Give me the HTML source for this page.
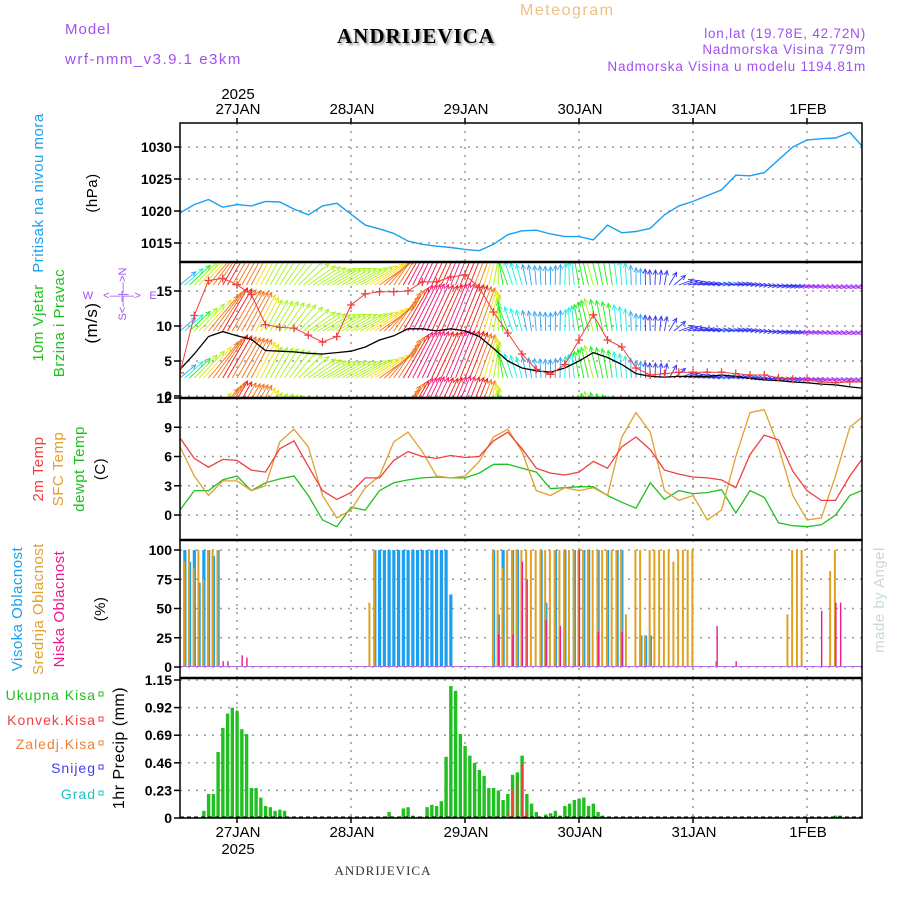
<!DOCTYPE html>
<html><head><meta charset="utf-8"><style>
html,body{margin:0;padding:0;background:#fff;}
svg{display:block;font-family:"Liberation Sans",sans-serif;}
</style></head><body>
<svg id="c" width="900" height="900" viewBox="0 0 900 900"></svg>
<script>
// ---------- data ----------
const dayLabels = ["27JAN","28JAN","29JAN","30JAN","31JAN","1FEB"];
const pressure = [1019.7,1021.0,1021.8,1020.6,1021.0,1020.8,1021.5,1021.4,1020.3,1019.4,1020.8,1021.2,1019.5,1017.8,1017.2,1016.5,1015.3,1014.8,1014.5,1014.3,1014.0,1013.8,1014.8,1016.3,1016.9,1017.0,1016.4,1016.0,1016.0,1015.5,1017.8,1016.6,1016.8,1017.3,1019.4,1020.8,1021.5,1022.4,1023.3,1025.6,1025.5,1026.0,1028.0,1030.0,1031.1,1031.3,1031.4,1032.3,1029.8];
const pressureTicks = [1015,1020,1025,1030];
const windSpeed = [3.8,6.0,8.5,9.2,8.6,8.1,6.5,6.4,6.3,6.1,6.0,6.2,6.4,7.0,8.0,8.6,9.6,9.6,9.3,9.6,9.3,8.5,6.8,5.0,4.0,3.6,3.4,4.0,5.0,6.2,5.5,4.5,3.2,2.8,2.7,2.8,2.8,2.8,3.0,2.8,2.5,2.3,2.2,2.0,1.9,1.7,1.6,1.3,1.1];
const windGust = [3.3,11.5,16.5,16.8,15.9,14.5,10.2,9.8,9.7,8.7,7.7,8.5,13.0,14.6,14.9,14.9,15.0,16.3,16.3,17.0,17.3,15.5,12.0,9.0,6.0,3.8,3.1,4.5,8.0,11.6,8.0,7.0,4.0,3.0,3.2,3.4,3.4,3.4,3.4,3.2,3.0,3.0,2.6,2.4,2.3,2.0,1.9,2.0,2.0];
const windDirTo = [40,45,50,60,60,62,62,58,50,35,30,30,28,30,35,55,62,65,65,68,68,70,80,110,105,95,90,88,100,105,100,95,90,92,80,20,10,5,5,5,0,-5,-8,-10,-12,-14,-15,-15,-16];
const windTicks = [0,5,10,15];
const temp2m = [7.9,5.8,4.9,5.7,5.6,4.6,4.4,6.8,7.6,5.0,2.5,1.6,2.3,3.8,3.8,5.6,6.5,6.0,5.8,6.1,5.9,6.0,7.6,8.5,6.8,4.8,4.3,4.1,4.4,5.5,4.8,7.0,8.0,6.7,4.6,4.2,3.9,3.8,3.6,2.8,6.2,8.2,7.7,4.5,2.5,1.5,1.5,4.0,6.0];
const tempSfc = [7.0,4.0,2.0,3.5,3.5,2.5,3.0,7.5,8.8,7.0,2.0,-0.3,0.5,2.8,4.0,7.5,8.5,6.5,4.0,3.8,4.0,5.5,8.0,8.8,6.5,2.5,2.0,2.8,2.5,2.8,2.0,8.0,10.5,8.5,2.5,1.5,2.0,-0.5,0.5,6.0,10.5,10.8,7.0,2.0,-0.5,-0.3,4.0,9.0,10.2];
const tempDew = [0.5,2.5,2.5,3.6,4.0,2.5,3.3,3.7,4.0,2.0,-0.5,-1.2,0.8,0.5,2.5,3.3,3.6,3.8,3.9,3.8,3.8,4.3,5.2,5.2,4.8,4.4,2.7,2.8,2.9,2.9,2.0,1.3,0.7,3.3,1.6,2.5,2.2,2.3,2.6,0.2,2.5,1.8,-0.8,-1.1,-1.2,-1.0,0.0,2.0,2.6];
const tempTicks = [0,3,6,9,12];
const cloudHigh = [0,100,90,100,72,100,100,95,100,0,0,0,0,0,0,0,0,0,0,0,0,0,0,0,0,0,0,0,0,0,0,0,0,0,0,0,0,0,0,0,0,100,100,100,100,100,100,100,100,100,100,100,100,100,100,100,100,62,0,0,0,0,0,0,0,0,100,45,100,0,100,100,0,0,0,0,100,55,0,100,0,100,0,100,0,100,100,0,100,0,100,0,100,100,0,0,0,27,27,27,0,0,0,0,0,0,0,0,0,0,0,0,0,0,0,0,0,0,0,0,0,0,0,0,0,0,0,0,0,0,0,0,0,0,0,0,0,0,0,0];
const cloudMid = [80,90,100,85,100,75,100,100,100,0,0,0,0,0,0,0,0,0,0,0,0,0,0,0,0,0,0,0,0,0,0,0,0,0,0,0,0,0,0,0,55,100,0,0,0,0,0,0,0,0,0,0,0,0,0,0,0,0,0,0,0,0,0,0,0,0,100,100,85,100,100,100,100,100,100,100,100,100,100,100,100,100,100,100,100,100,100,100,100,100,100,100,100,100,45,0,100,100,27,100,100,100,100,100,90,100,100,100,100,0,0,0,0,5,0,0,0,0,0,0,0,0,0,0,0,0,0,0,45,100,100,100,0,0,0,0,0,82,100,0,0,0,0,0];
const cloudLow = [0,0,0,0,0,0,0,0,0,5,5,0,0,10,8,0,0,0,0,0,0,0,0,0,0,0,0,0,0,0,0,0,0,0,0,0,0,0,0,0,0,0,0,0,0,0,0,0,0,0,0,0,0,0,0,0,0,0,0,0,0,0,0,0,0,0,0,28,0,0,28,0,90,75,0,0,0,40,0,0,35,0,0,0,100,0,0,0,30,0,0,0,0,30,0,0,0,0,0,0,0,0,0,0,0,0,0,0,0,0,0,0,0,35,0,0,0,5,0,0,0,0,0,0,0,0,0,0,0,0,0,0,0,0,0,48,0,0,55,55,0,0,0];
const cloudTicks = [0,25,50,75,100];
const precipTotal = [0,0,0,0,0,0.06,0.2,0.2,0.55,0.75,0.87,0.92,0.89,0.74,0.7,0.25,0.25,0.17,0.1,0.09,0.06,0.07,0.06,0.01,0,0,0,0,0,0,0,0,0,0,0,0,0,0,0,0,0,0,0,0.01,0.05,0.01,0.01,0.08,0.09,0.02,0.01,0.01,0.09,0.11,0.1,0.14,0.51,1.1,1.06,0.7,0.6,0.52,0.46,0.4,0.35,0.25,0.25,0.23,0.15,0.2,0.36,0.38,0.52,0.2,0.12,0.05,0.01,0.03,0.04,0.06,0.02,0.1,0.12,0.15,0.16,0.17,0.1,0.12,0.05,0.02,0,0,0,0,0,0,0,0,0,0,0,0,0,0,0,0,0,0,0,0,0,0,0,0,0,0,0,0,0,0,0,0,0,0,0,0,0,0,0,0,0,0,0,0,0,0,0,0,0.02,0.02,0,0,0,0,0,0,0,0,0];
const precipConv = [0,0,0,0,0,0,0,0,0,0,0,0,0,0,0,0,0,0,0,0,0,0,0,0,0,0,0,0,0,0,0,0,0,0,0,0,0,0,0,0,0,0,0,0,0,0,0,0,0,0,0,0,0,0,0,0,0,0,0,0,0,0,0,0,0,0,0,0,0,0.05,0.23,0.3,0.45,0.05,0,0,0,0,0,0,0,0,0,0,0,0,0,0,0,0,0,0,0,0,0,0,0,0,0,0,0,0,0,0,0,0,0,0,0,0,0,0,0,0,0,0,0,0,0,0,0,0,0,0,0,0,0,0,0,0,0,0,0,0,0,0,0,0,0,0,0,0,0,0];
const precipTicks = [0,0.23,0.46,0.69,0.92,1.15];

// ---------- helpers ----------
const NS="http://www.w3.org/2000/svg";
const svg=document.getElementById('c');
function mk(tag,attrs,parent){const e=document.createElementNS(NS,tag);for(const k in attrs)e.setAttribute(k,attrs[k]);(parent||svg).appendChild(e);return e;}
const X0=180,X1=862,PXH=114/24;
const xH=h=>X0+h*PXH;
const x3=k=>X0+k*3*PXH;
const xDay=d=>237+d*114;
const panels={p:[123,262],w:[262,398],t:[398,540],c:[540,678],r:[678,818]};
const yP=v=>243-(v-1015)*6.4;
const yW=v=>396-v*7;
const yT=v=>515-v*9.75;
const yC=v=>667-v*1.17;
const yR=v=>818-v*120;

function clip(id,p){const cp=mk('clipPath',{id:id});mk('rect',{x:X0,y:p[0],width:X1-X0,height:p[1]-p[0]},cp);}
clip('cp',panels.p);clip('cw',panels.w);clip('ct',panels.t);clip('cc',panels.c);clip('cr',panels.r);

function grid(p,ys){
  const g=mk('g',{});
  
  
  for(let d=0;d<dayLabels.length;d++)mk('line',{x1:xDay(d),x2:xDay(d),y1:p[0],y2:p[1],stroke:'#999','stroke-dasharray':'2,6','stroke-width':1.5},g);
  ys.forEach(y=>mk('line',{x1:X0,x2:X1,y1:y,y2:y,stroke:'#999','stroke-dasharray':'2,6','stroke-width':1.5},g));
}
function yticks(vals,fy,fmt){
  const g=mk('g',{});
  
  
  vals.forEach(v=>{const y=fy(v);mk('line',{x1:X0-6,x2:X0,y1:y,y2:y,stroke:'#000','stroke-width':1.5},g);
    const t=mk('text',{x:X0-8,y:y+5,'text-anchor':'end','font-size':14,'font-weight':'bold'},g);t.textContent=fmt?fmt(v):v;});
}
function line(arr,fx,fy,col,cp,name,w){
  const pts=arr.map((v,i)=>fx(i).toFixed(1)+','+fy(v).toFixed(1)).join(' ');
  const e=mk('polyline',{points:pts,fill:'none',stroke:col,'stroke-width':w||1.3,'clip-path':'url(#'+cp+')'});
  
  
}
function txt(x,y,s,attrs,name){const t=mk('text',Object.assign({x:x,y:y},attrs||{}));t.textContent=s;return t;}
function vtxt(x,y,s,col,name,size){return txt(x,y,s,{transform:'rotate(-90 '+x+' '+y+')','text-anchor':'middle',fill:col,'font-size':size||15,'letter-spacing':'0.5'},name);}

// ---------- grids ----------
grid(panels.p,pressureTicks.map(yP));
grid(panels.w,windTicks.map(yW));
grid(panels.t,tempTicks.slice(0,4).map(yT));
grid(panels.c,cloudTicks.map(yC));
grid(panels.r,precipTicks.map(yR));

// ---------- pressure ----------
line(pressure,x3,yP,'#1aa0f0','cp','pressure-line',1.4);

// ---------- wind arrows ----------
function spdCol(s){let h;
  if(s<2)h=275;else if(s<3)h=240;else if(s<4)h=205;else if(s<5)h=175;else if(s<6)h=120;else if(s<7)h=80;else if(s<8)h=55;else if(s<9)h=25;else if(s<9.5)h=0;else h=335;
  return 'hsl('+h+',90%,'+(h>200&&h<280?'58%':'52%')+')';}
const wg=mk('g',{'clip-path':'url(#cw)'});


const rows=[285,331,378,424];
for(let h=0;h<=143;h++){
  const k=h/3,k0=Math.floor(k),k1=Math.min(k0+1,48),f=k-k0;
  const s=windSpeed[k0]*(1-f)+windSpeed[k1]*f;
  const a=(windDirTo[k0]*(1-f)+windDirTo[k1]*f)*Math.PI/180;
  const L=Math.max(10,s*5.4),col=spdCol(s);
  const x=xH(h);
  rows.forEach(yb=>{
    const x2=x+L*Math.cos(a),y2=yb-L*Math.sin(a);
    mk('line',{x1:x,y1:yb,x2:x2,y2:y2,stroke:col,'stroke-width':0.9},wg);
    const ha=0.45,hl=5;
    mk('polyline',{points:(x2-hl*Math.cos(a-ha))+','+(y2+hl*Math.sin(a-ha))+' '+x2+','+y2+' '+(x2-hl*Math.cos(a+ha))+','+(y2+hl*Math.sin(a+ha)),fill:'none',stroke:col,'stroke-width':0.9},wg);
  });
}
line(windSpeed,x3,yW,'#000','cw','wind-speed-line',1.3);
const gg=mk('g',{'clip-path':'url(#cw)'});


line(windGust,x3,yW,'#f04040','cw','wind-gust-line',1);
windGust.forEach((v,i)=>{const x=x3(i),y=yW(v);
  mk('path',{d:`M${x-4},${y}h8M${x},${y-4}v8`,stroke:'#f04040','stroke-width':1.3},gg);});

// ---------- temperature ----------
line(tempDew,x3,yT,'#20c020','ct','dewpoint-line',1.3);
line(tempSfc,x3,yT,'#e0a030','ct','sfc-temp-line',1.3);
line(temp2m,x3,yT,'#f04040','ct','temp-2m-line',1.3);

// ---------- clouds ----------
const cg=mk('g',{'clip-path':'url(#cc)'});


cloudHigh.forEach((v,i)=>{if(v>0){const y=yC(v);mk('rect',{x:xH(i)-1.5,y:y,width:3.2,height:yC(0)-y,fill:'#1aa0f0'},cg);}});
cloudMid.forEach((v,i)=>{if(v>0){const y=yC(v);mk('rect',{x:xH(i)-1.6,y:y,width:2,height:yC(0)-y,fill:'#e0a020'},cg);}});
cloudLow.forEach((v,i)=>{if(v>0){const y=yC(v);mk('rect',{x:xH(i)-0.3,y:y,width:1.4,height:yC(0)-y,fill:'#f01890'},cg);}});
mk('line',{x1:X0,x2:X1,y1:yC(0)-0.5,y2:yC(0)-0.5,stroke:'#b070e0','stroke-width':1});

// ---------- precip ----------
const rg=mk('g',{'clip-path':'url(#cr)'});


precipTotal.forEach((v,i)=>{if(v>0){const y=yR(v);mk('rect',{x:xH(i)-1.6,y:y,width:3.4,height:yR(0)-y,fill:'#20c020'},rg);}});
precipConv.forEach((v,i)=>{if(v>0){const y=yR(v);mk('rect',{x:xH(i)-0.6,y:y,width:1.6,height:yR(0)-y,fill:'#f04040'},rg);}});
mk('line',{x1:X0,x2:X1,y1:817,y2:817,stroke:'#000','stroke-width':1,'stroke-dasharray':'4,3'});

// ---------- frames & ticks ----------
Object.keys(panels).forEach(k=>{const p=panels[k];
  const r=mk('rect',{x:X0,y:p[0],width:X1-X0,height:p[1]-p[0],fill:'none',stroke:'#000','stroke-width':1.5});
  
  });
[262,398,540,678].forEach(y=>mk('line',{x1:X0,x2:X1,y1:y,y2:y,stroke:'#000','stroke-width':2.5}));
yticks(pressureTicks,yP);
yticks(windTicks,yW);
yticks(tempTicks,yT);
yticks(cloudTicks,yC);
yticks(precipTicks,yR,v=>v===0?'0':v.toFixed(2));
for(let d=0;d<dayLabels.length;d++){
  mk('line',{x1:xDay(d),x2:xDay(d),y1:118,y2:123,stroke:'#000','stroke-width':1.5});
  mk('line',{x1:xDay(d),x2:xDay(d),y1:818,y2:823,stroke:'#000','stroke-width':1.5});
  txt(xDay(d)+1,114,dayLabels[d],{'text-anchor':'middle','font-size':15},'top-date-label');
  txt(xDay(d)+1,837,dayLabels[d],{'text-anchor':'middle','font-size':15},'bottom-date-label');
}
txt(238,99,'2025',{'text-anchor':'middle','font-size':15},'top-year-label');
txt(238,854,'2025',{'text-anchor':'middle','font-size':15},'bottom-year-label');

// ---------- header ----------
txt(65,34,'Model',{fill:'#a050f0','font-size':15,'letter-spacing':'1'},'model-label');
txt(65,64,'wrf-nmm_v3.9.1 e3km',{fill:'#a050f0','font-size':15,'letter-spacing':'1.5'},'model-name');
txt(520,15,'Meteogram',{fill:'#f0c080','font-size':16,'letter-spacing':'1.5'},'meteogram-title');
txt(416,43,'ANDRIJEVICA',{'text-anchor':'middle','font-family':'"Liberation Serif",serif','font-size':21,'font-weight':'bold',fill:'#000',style:'text-shadow:2px 2px 2px #999','letter-spacing':'1'},'station-title');
txt(866,38,'lon,lat (19.78E, 42.72N)',{'text-anchor':'end',fill:'#a050f0','font-size':13.5,'letter-spacing':'0.8'},'lonlat-label');
txt(866,54,'Nadmorska Visina 779m',{'text-anchor':'end',fill:'#a050f0','font-size':13.5,'letter-spacing':'0.8'},'elevation-label');
txt(866,71,'Nadmorska Visina u modelu 1194.81m',{'text-anchor':'end',fill:'#a050f0','font-size':13.5,'letter-spacing':'0.8'},'model-elevation-label');
txt(383,875,'ANDRIJEVICA',{'text-anchor':'middle','font-family':'"Liberation Serif",serif','font-size':13,fill:'#333','letter-spacing':'1'},'footer-station');
vtxt(884,600,'made by Angel','#c8dcc8','credit-label',15);

// ---------- left axis titles ----------
vtxt(43,193,'Pritisak na nivou mora','#1aa0f0','pressure-title');
vtxt(97,193,'(hPa)','#000','pressure-unit');
vtxt(43,323,'10m Vjetar','#20c020','wind-title-1');
vtxt(64,323,'Brzina i Pravac','#20c020','wind-title-2');
vtxt(97,323,'(m/s)','#000','wind-unit',17);
const cpg=mk('g',{fill:'#a050f0','font-size':11});


txt(88,299,'W',{fill:'#a050f0','font-size':11,'text-anchor':'middle'},'compass-w');
txt(122,299,'<—|—>',{fill:'#a050f0','font-size':11,'text-anchor':'middle'},'compass-ew-arrow');
txt(153,299,'E',{fill:'#a050f0','font-size':11,'text-anchor':'middle'},'compass-e');
txt(126,294,'S<—|—>N',{fill:'#a050f0','font-size':11,'text-anchor':'middle',transform:'rotate(-90 126 294)'},'compass-ns-arrow');
vtxt(43,469,'2m Temp','#f04040','temp2m-title');
vtxt(63,469,'SFC Temp','#e0a030','sfc-temp-title');
vtxt(84,469,'dewpt Temp','#20c020','dewpt-title');
vtxt(105,469,'(C)','#000','temp-unit');
vtxt(22,609,'Visoka Oblacnost','#1aa0f0','high-cloud-title');
vtxt(43,609,'Srednja Oblacnost','#e0a030','mid-cloud-title');
vtxt(64,609,'Niska Oblacnost','#f01890','low-cloud-title');
vtxt(105,609,'(%)','#000','cloud-unit');
vtxt(124,748,'1hr Precip (mm)','#000','precip-title',16);
[['Ukupna Kisa','#20c020',700],['Konvek.Kisa','#f04040',725],['Zaledj.Kisa','#f08030',749],['Snijeg','#4040f0',773],['Grad','#20c0c0',799]].forEach(a=>{
  txt(96,a[2],a[0],{'text-anchor':'end',fill:a[1],'font-size':14,'letter-spacing':'1'},'precip-legend-entry');
  const r=mk('rect',{x:99,y:a[2]-8,width:4,height:4,fill:'none',stroke:a[1],'stroke-width':1});
  
  
});
</script>
</body></html>
